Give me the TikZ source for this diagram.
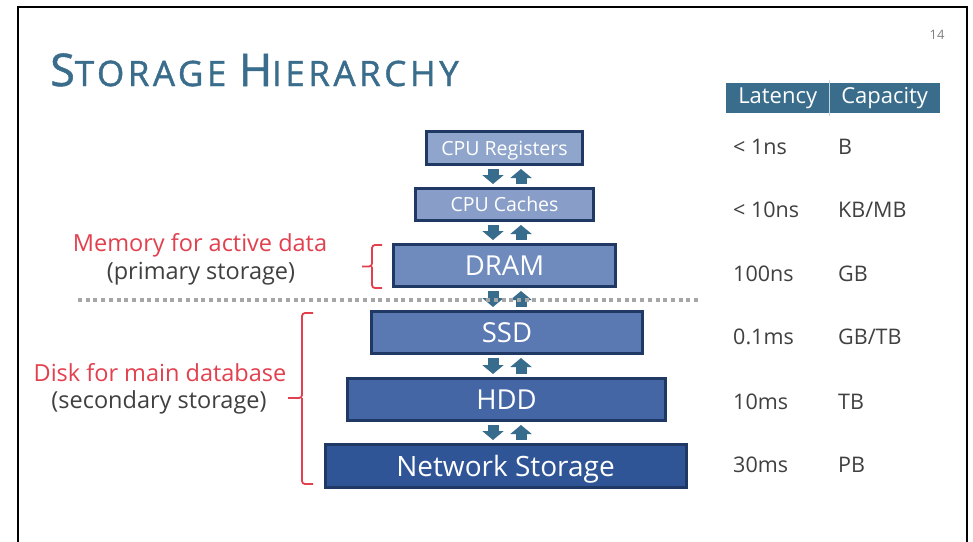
\documentclass[tikz,border=0pt]{standalone}
\usepackage{fontspec}
\setmainfont{Open Sans}
\usetikzlibrary{arrows.meta}

\definecolor{titleblue}{HTML}{3A6D8C}
\definecolor{arrowblue}{HTML}{376C8D}
\definecolor{boxline}{HTML}{203864}
\definecolor{memred}{HTML}{E2404E}
\definecolor{labelgray}{HTML}{404040}
\definecolor{dotgray}{HTML}{A6A6A6}
\definecolor{regfill}{HTML}{8FA5CB}
\definecolor{cachefill}{HTML}{889DC7}
\definecolor{dramfill}{HTML}{6F8BBE}
\definecolor{ssdfill}{HTML}{5A78B1}
\definecolor{hddfill}{HTML}{4466A4}
\definecolor{netfill}{HTML}{2F5597}

\tikzset{
  tier/.style={draw=boxline, line width=3pt, text=white, inner sep=0pt, text depth=0pt},
  flow/.style={arrowblue, line width=11pt, shorten <=3pt, shorten >=3pt,
    -{Triangle[width=21pt,length=9pt]}},
  brace/.style={memred, line width=1.8pt, rounded corners=3pt},
  redlabel/.style={text=memred, font=\fontsize{23.5}{23.5}\selectfont},
  graylabel/.style={text=labelgray, font=\fontsize{23.5}{23.5}\selectfont},
  cell/.style={text=labelgray, anchor=west, inner sep=0pt, font=\fontsize{21.5}{21.5}\selectfont},
  hdr/.style={fill=titleblue, text=white, minimum height=30pt, inner sep=0pt,
    anchor=north west, font=\fontsize{22}{22}\selectfont}
}

\begin{document}
\begin{tikzpicture}[x=1pt, y=-1pt]
\useasboundingbox (0,0) rectangle (973,541);
\fill[white] (0,0) rectangle (973,541);
\draw[line width=2.5pt] (18,560) -- (18,7) -- (967,7) -- (967,560);

\node[anchor=base west, inner sep=0pt, text=titleblue, font=\addfontfeature{LetterSpace=10,FakeBold=1.2}] (title) at (50,86)
  {\fontsize{45}{45}\selectfont S\fontsize{35}{35}\selectfont TORAGE \fontsize{45}{45}\selectfont H\fontsize{35}{35}\selectfont IERARCHY};
\node[text=gray, font=\fontsize{13}{13}\selectfont] (page) at (937,35) {14};

\node[hdr, minimum width=103pt] (lathdr) at (726,83) {Latency};
\node[hdr, minimum width=111pt] (caphdr) at (829,83) {Capacity};
\draw[white!70!titleblue, line width=1pt] ([yshift=3pt]caphdr.north west) -- ([yshift=-3pt]caphdr.south west);

\node[tier, fill=regfill, minimum width=156pt, minimum height=33pt, font=\fontsize{19.5}{19.5}\selectfont] (reg) at (504.5,148) {CPU Registers};
\node[tier, fill=cachefill, minimum width=178pt, minimum height=32pt, font=\fontsize{19.5}{19.5}\selectfont] (cache) at (504.5,204.5) {CPU Caches};
\node[tier, fill=dramfill, minimum width=222pt, minimum height=42pt, font=\fontsize{27.5}{27.5}\selectfont] (dram) at (504.5,265.5) {DRAM};
\node[tier, fill=ssdfill, minimum width=271pt, minimum height=42pt, font=\fontsize{27.5}{27.5}\selectfont] (ssd) at (507,332.5) {SSD};
\node[tier, fill=hddfill, minimum width=318pt, minimum height=42pt, font=\fontsize{27.5}{27.5}\selectfont] (hdd) at (506.5,399.5) {HDD};
\node[tier, fill=netfill, minimum width=361pt, minimum height=43pt, font=\fontsize{28}{28}\selectfont] (net) at (505.5,466) {Network Storage};

\coordinate (dn) at (493,0);
\coordinate (up) at (521,0);
\foreach \a/\b in {reg/cache, cache/dram, dram/ssd, ssd/hdd, hdd/net} {
  \draw[flow] (\a.south -| dn) -- (\b.north -| dn);
  \draw[flow] (\b.north -| up) -- (\a.south -| up);
}

\coordinate (sepl) at (78,300);
\coordinate (sepr) at (701,300);
\draw[dotgray, line width=4pt, dash pattern=on 4pt off 3.7pt] (sepl) -- (sepr);

\node[redlabel] (mem) at (200,245) {Memory for active data};
\node[graylabel] (prim) at (201,274) {(primary storage)};
\node[redlabel] (disk) at (160,373) {Disk for main database};
\node[graylabel] (sec) at (159,402) {(secondary storage)};

\draw[brace] (382,245) -- (372,245) -- (372,266.5) -- (362,266.5) (372,266.5) -- (372,288) -- (382,288);
\draw[brace] (313,313) -- (302,313) -- (302,398) -- (288,398) (302,398) -- (302,484) -- (313,484);

\foreach \lat/\cap/\y [count=\i] in {{< 1ns}/B/147, {< 10ns}/KB\slash MB/210, 100ns/GB/274,
    0.1ms/GB\slash TB/337, 10ms/TB/402, 30ms/PB/465} {
  \node[cell] (lat\i) at (733,\y) {\lat};
  \node[cell] (cap\i) at (838,\y) {\cap};
}
\end{tikzpicture}
\end{document}
